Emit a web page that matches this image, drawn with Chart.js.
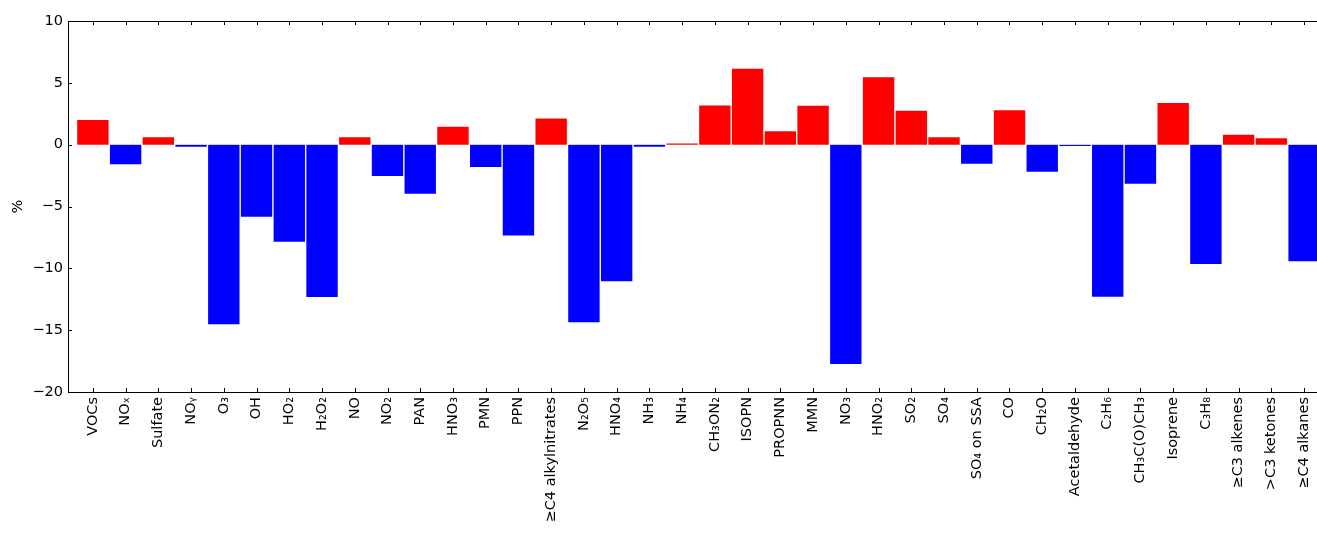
<!DOCTYPE html>
<html>
<head>
<meta charset="utf-8">
<script src="https://cdn.jsdelivr.net/npm/chart.js@4/dist/chart.umd.min.js"></script>
<style>
html, body { margin: 0; padding: 0; overflow: hidden; background: #fff; }
canvas { display: block; }
</style>
</head>
<body>
<canvas id="canvas-species" width="1345" height="533"></canvas>
<script>
const species = [
    "VOCs", "NOₓ", "Sulfate", "NOᵧ", "O₃", "OH", "HO₂", "H₂O₂", "NO", "NO₂",
    "PAN", "HNO₃", "PMN", "PPN", "≥C4 alkylnitrates", "N₂O₅", "HNO₄", "NH₃", "NH₄",
    "CH₃ON₂", "ISOPN", "PROPNN", "MMN", "NO₃", "HNO₂", "SO₂", "SO₄", "SO₄ on SSA",
    "CO", "CH₂O", "Acetaldehyde", "C₂H₆", "CH₃C(O)CH₃", "Isoprene", "C₃H₈",
    "≥C3 alkenes", ">C3 ketones", "≥C4 alkanes"
];

const change = [
    2.05, -1.64, 0.65, -0.22, -14.58, -5.88, -7.90, -12.37, 0.65, -2.59,
    -4.02, 1.51, -1.86, -7.39, 2.16, -14.42, -11.10, -0.22, 0.13,
    3.23, 6.20, 1.13, 3.21, -17.79, 5.50, 2.80, 0.65, -1.59,
    2.83, -2.24, -0.16, -12.35, -3.21, 3.42, -9.70,
    0.86, 0.57, -9.49
];

const yTicks = [-20, -15, -10, -5, 0, 5, 10];

const fontFamily = "'DejaVu Sans', sans-serif";

// inward ticks on all four sides plus the box, like the classic matplotlib frame
const framePlugin = {
    id: 'frame',
    afterDraw(c)
    {
        const ctx = c.ctx;
        const a = c.chartArea;
        const xs = c.scales.x;
        const ys = c.scales.y;
        const len = 4;

        ctx.save();
        ctx.strokeStyle = '#000';
        ctx.lineWidth = 1;
        ctx.beginPath();

        for (let i = 0; i < species.length; i++)
        {
            const px = Math.round(xs.getPixelForValue(i)) + 0.5;
            ctx.moveTo(px, a.bottom);
            ctx.lineTo(px, a.bottom - len);
            ctx.moveTo(px, a.top);
            ctx.lineTo(px, a.top + len);
        }

        for (const v of yTicks)
        {
            const py = Math.round(ys.getPixelForValue(v)) + 0.5;
            ctx.moveTo(a.left, py);
            ctx.lineTo(a.left + len, py);
            ctx.moveTo(a.right, py);
            ctx.lineTo(a.right - len, py);
        }

        ctx.stroke();
        ctx.strokeRect(Math.round(a.left) + 0.5, Math.round(a.top) + 0.5,
            Math.round(a.right - a.left), Math.round(a.bottom - a.top));
        ctx.restore();
    }
};

const chart = new Chart(document.getElementById('canvas-species'), {
    type: 'bar',
    data: {
        datasets: [{
            data: change.map((v, i) => ({ x: i, y: v })),
            backgroundColor: change.map((v) => v >= 0 ? '#ff0000' : '#0000ff'),
            borderColor: '#ffffff',
            borderWidth: 1,
            barPercentage: 1,
            categoryPercentage: 1
        }]
    },
    options: {
        responsive: false,
        animation: false,
        devicePixelRatio: 1,
        layout: {
            padding: { top: 21, right: 16, left: 0, bottom: 0 }
        },
        plugins: {
            legend: { display: false },
            tooltip: { enabled: false }
        },
        scales: {
            x: {
                type: 'linear',
                offset: false,
                min: -0.76,
                max: 37.76,
                grid: { display: false, drawTicks: false },
                border: { display: false },
                ticks: {
                    stepSize: 1,
                    includeBounds: false,
                    autoSkip: false,
                    maxRotation: 90,
                    minRotation: 90,
                    padding: 5,
                    color: '#000',
                    font: { family: fontFamily, size: 14.5 },
                    callback: (v) => species[Math.round(v)] ?? ''
                },
                afterFit: (s) => { s.height = 141; }
            },
            y: {
                min: -20,
                max: 10,
                grid: { display: false, drawTicks: false },
                border: { display: false },
                ticks: {
                    stepSize: 5,
                    padding: 5,
                    color: '#000',
                    font: { family: fontFamily, size: 14.5 },
                    callback: (v) => String(v).replace('-', '\u2212')
                },
                title: {
                    display: true,
                    text: '%',
                    color: '#000',
                    padding: { top: 10, bottom: 0 },
                    font: { family: fontFamily, size: 14.5 }
                },
                afterFit: (s) => { s.width = 68; }
            }
        }
    },
    plugins: [framePlugin]
});
</script>
</body>
</html>
